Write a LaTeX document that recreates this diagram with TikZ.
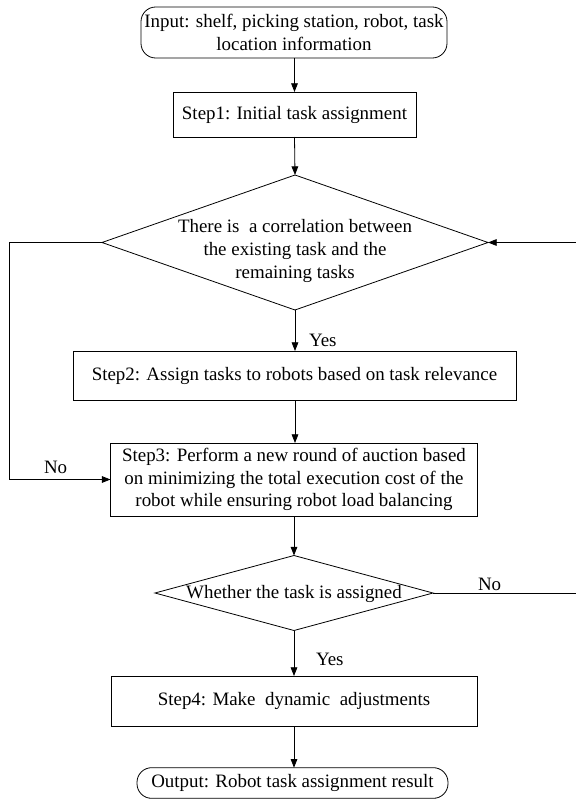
\documentclass[tikz,border=0pt]{standalone}
\usepackage{fontspec}
\setmainfont{Liberation Serif}
\usetikzlibrary{shapes.geometric,arrows.meta}
\begin{document}
\begin{tikzpicture}[x=0.75pt,y=-0.75pt,
  font=\fontsize{14.2pt}{17pt}\selectfont,
  every node/.style={inner sep=0pt, outer sep=0pt},
  line/.style={draw=black, line width=0.6pt},
  flow/.style={line, -{Triangle[length=6.5pt,width=5pt]}},
  term/.style={rectangle, rounded corners=11pt, draw, line width=0.6pt, align=center},
  proc/.style={rectangle, draw, line width=0.6pt, align=center},
  dec/.style={diamond, draw, line width=0.6pt},
  lab/.style={anchor=west}]
  \useasboundingbox (0,0) rectangle (575,799);

  % process boxes and terminals
  \node[term, minimum width=229.5pt, minimum height=38.25pt] (input) at (294,32.5)
    {Input: shelf, picking station, robot, task\\location information};
  \node[proc, minimum width=182.25pt, minimum height=33.75pt] (step1) at (294.5,114.5)
    {Step1: Initial task assignment};
  \node[dec, minimum width=289.5pt, minimum height=101.25pt] (dec1) at (295,242.5) {};
  \node[align=center] (dec1text) at (295,251)
    {There is~ a correlation between\\the existing task and the\\remaining tasks};
  \node[proc, minimum width=332.25pt, minimum height=36.75pt] (step2) at (294.5,375.5)
    {Step2: Assign tasks to robots based on task relevance};
  \node[proc, minimum width=275.25pt, minimum height=54.75pt] (step3) at (294,479.5)
    {Step3: Perform a new round of auction based\\on minimizing the total execution cost of the\\robot while ensuring robot load balancing};
  \node[dec, minimum width=208.5pt, minimum height=56.25pt] (dec2) at (294,593) {};
  \node (dec2text) at (294,594) {Whether the task is assigned};
  \node[proc, minimum width=274.5pt, minimum height=37.5pt] (step4) at (294,701)
    {Step4: Make~ dynamic~ adjustments};
  \node[term, minimum width=233.25pt, minimum height=23pt] (output) at (292.5,783)
    {Output: Robot task assignment result};

  % free corners of the loop-back connectors
  \coordinate (leftrail) at (9,242.5);
  \coordinate (rightrail) at (577,593);

  % main flow
  \draw[flow] (input.south -| step1.north) -- (step1.north);
  \draw[flow] (step1.south) -- (dec1.north);
  \draw[flow] (dec1.south) -- (step2.north -| dec1.south);
  \draw[flow] (step2.south -| dec1.south) -- (step3.north -| dec1.south);
  \draw[flow] (step3.south) -- (dec2.north);
  \draw[flow] (dec2.south) -- (step4.north);
  \draw[flow] (step4.south) -- (output.north -| step4.south);

  % branches
  \draw[flow] (dec1.west) -- (leftrail) |- (step3.west);
  \draw[flow] (dec2.east) -- (rightrail) |- (dec1.east);

  % branch labels
  \node[lab] (yes1) at (309,340) {Yes};
  \node[lab] (no1) at (44,467) {No};
  \node[lab] (no2) at (478,584) {No};
  \node[lab] (yes2) at (316,659) {Yes};
\end{tikzpicture}
\end{document}
